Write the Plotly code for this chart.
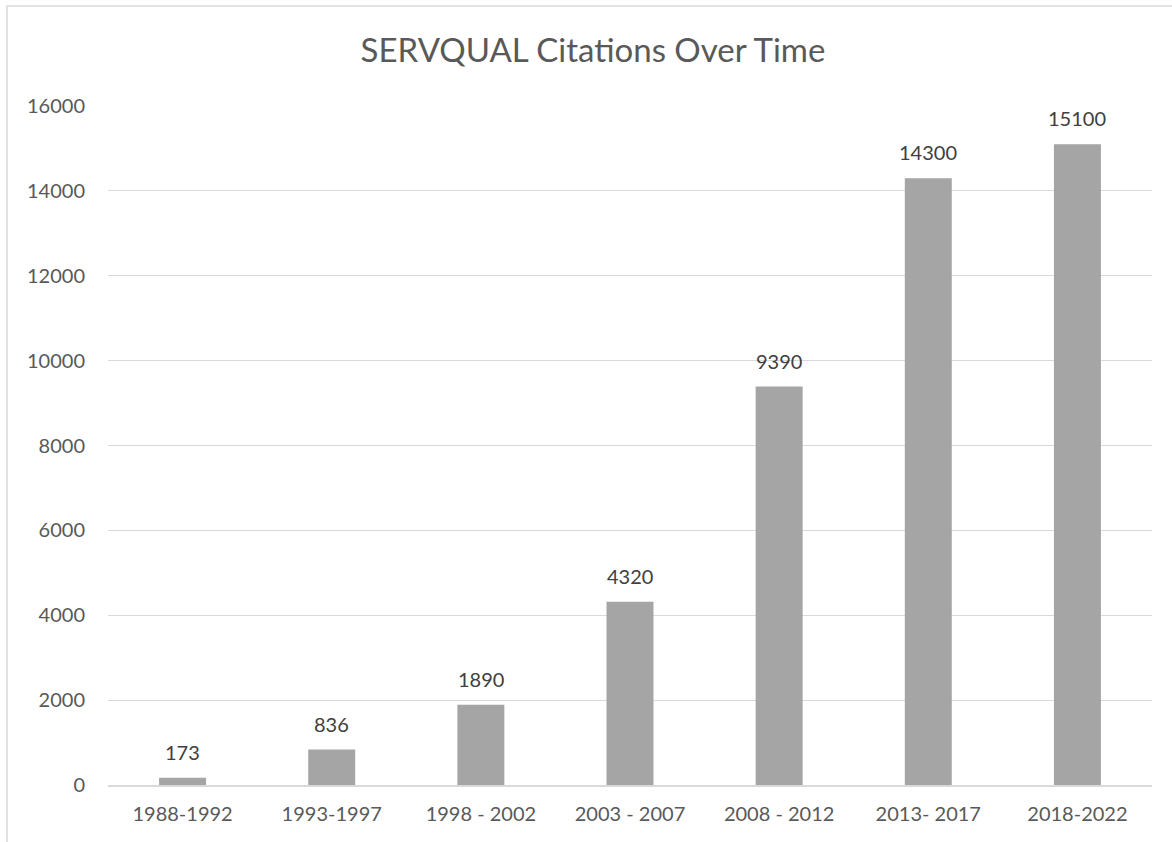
import plotly.graph_objects as go

categories = ["1988-1992", "1993-1997", "1998 - 2002", "2003 - 2007", "2008 - 2012", "2013- 2017", "2018-2022"]
citations = [173, 836, 1890, 4320, 9390, 14300, 15100]
y_ticks = [0, 2000, 4000, 6000, 8000, 10000, 12000, 14000, 16000]
y_tick_text = [str(v) for v in y_ticks]

FONT = "Lato, Open Sans, sans-serif"

fig = go.Figure()
fig.add_trace(go.Bar(
    x=categories, y=citations,
    marker=dict(color="#A5A5A5", line=dict(width=0)),
    hoverinfo="skip",
))

for c, v in zip(categories, citations):
    fig.add_annotation(x=c, y=v, text=str(v), showarrow=False,
                       yanchor="bottom", yshift=12,
                       font=dict(family=FONT, size=20, color="#404040"))

W, H = 1172, 842
L, R, T, B = 108, 20, 106, 57
pw, ph = W - L - R, H - T - B

fig.add_shape(type="rect", xref="paper", yref="paper",
              x0=(7 - L) / pw, x1=(W + 5 - L) / pw,
              y0=(H - B - (H + 5)) / ph, y1=(H - B - 6) / ph,
              line=dict(color="#D9D9D9", width=1.5), fillcolor="rgba(0,0,0,0)", layer="below")

fig.update_layout(
    width=W, height=H,
    margin=dict(l=L, r=R, t=T, b=B),
    paper_bgcolor="white", plot_bgcolor="white",
    bargap=0.685,
    showlegend=False,
    title=dict(text="SERVQUAL Citations Over Time", x=593 / W, xanchor="center",
               y=1 - 50 / H, yanchor="middle",
               font=dict(family=FONT, size=33, color="#595959")),
    font=dict(family=FONT, size=20, color="#595959"),
    xaxis=dict(showgrid=False, showline=True, linecolor="#D9D9D9", linewidth=1.5,
               ticks="", ticklabelstandoff=10, tickfont=dict(size=20, color="#595959")),
    yaxis=dict(range=[0, 16000], tickvals=y_ticks, ticktext=y_tick_text,
               showgrid=True, gridcolor="#D9D9D9",
               gridwidth=1.2, zeroline=False, showline=False, ticks="",
               ticklabelstandoff=22,
               tickfont=dict(size=20, color="#595959")),
)

fig.write_html("out.html")
